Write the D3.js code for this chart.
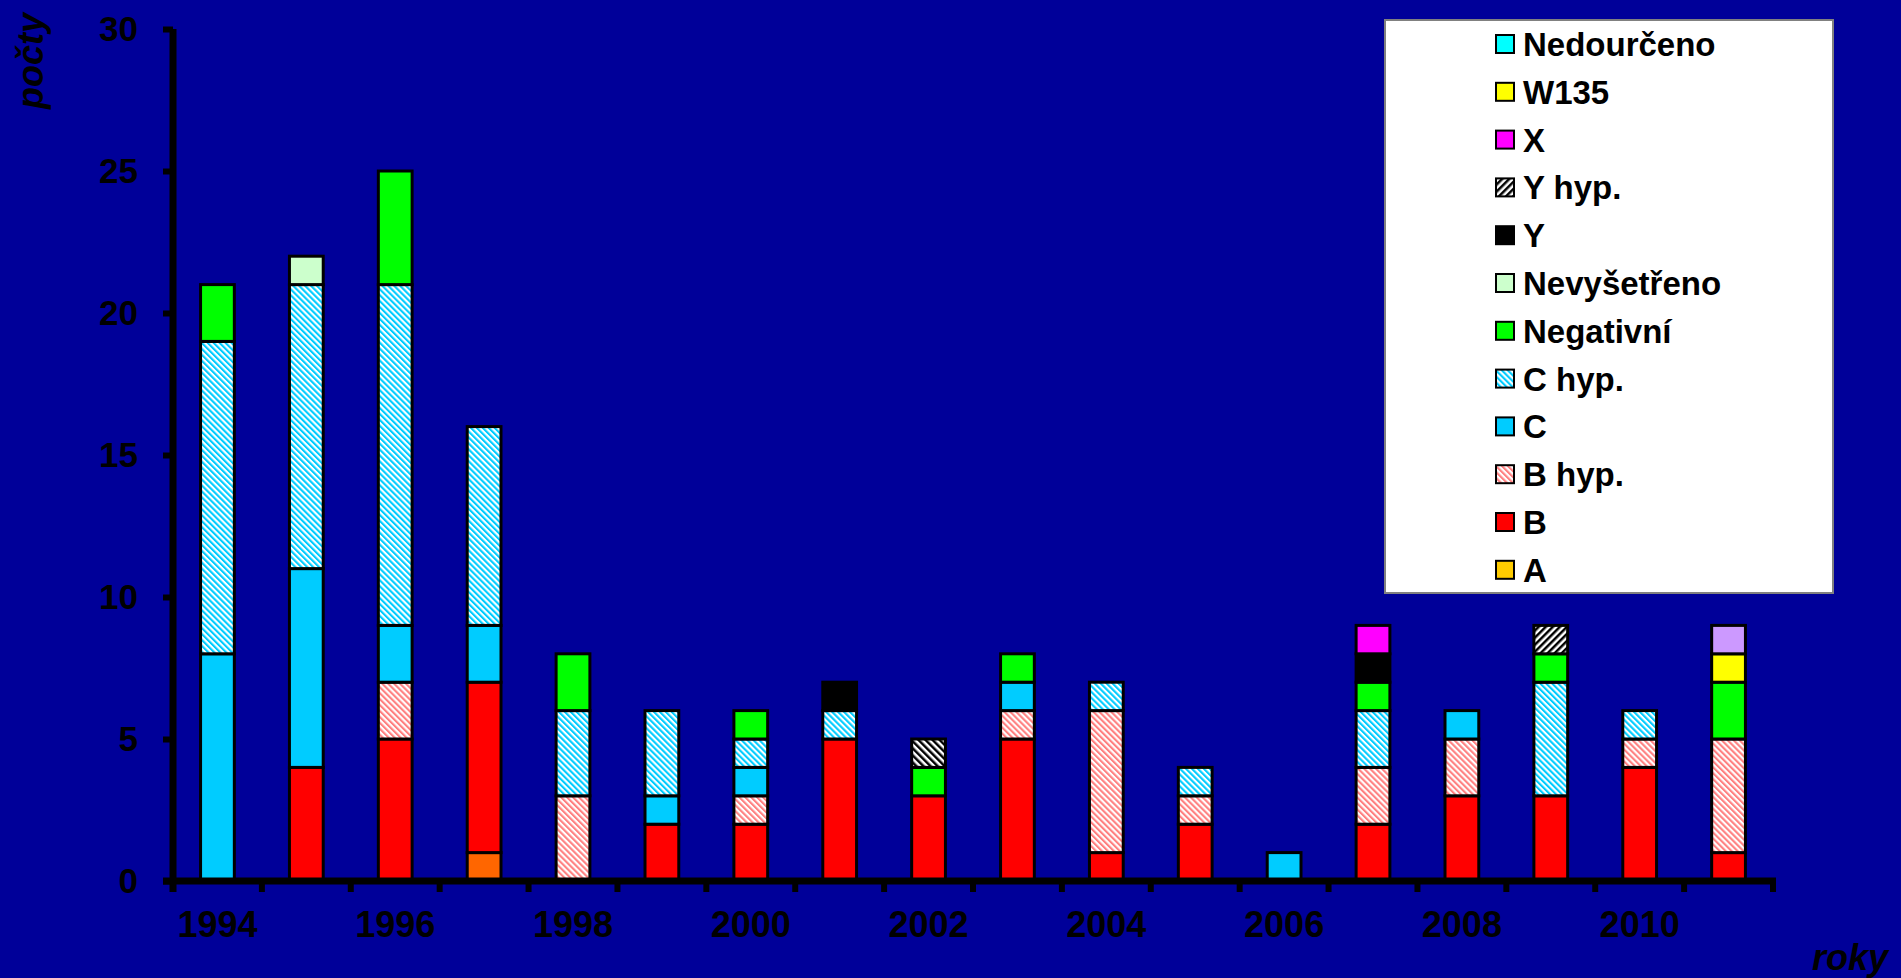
<!DOCTYPE html>
<html><head><meta charset="utf-8">
<script src="https://cdn.jsdelivr.net/npm/d3@7"></script>
<style>
html,body{margin:0;padding:0;background:#000099;overflow:hidden;}
text{font-family:"Liberation Sans",Arial,sans-serif;font-weight:bold;fill:#000;}
</style></head>
<body>
<svg id="chart" width="1901" height="978"></svg>
<script>
// ---- data ----
const years = [1994,1995,1996,1997,1998,1999,2000,2001,2002,2003,2004,2005,2006,2007,2008,2009,2010,2011];
const seriesNames = ["A","B","B hyp.","C","C hyp.","Negativní","Nevyšetřeno","Y","Y hyp.","X","W135","Nedourčeno"];
const valA          = [0,0,0,1,0,0,0,0,0,0,0,0,0,0,0,0,0,0];
const valB          = [0,4,5,6,0,2,2,5,3,5,1,2,0,2,3,3,4,1];
const valBhyp       = [0,0,2,0,3,0,1,0,0,1,5,1,0,2,2,0,1,4];
const valC          = [8,7,2,2,0,1,1,0,0,1,0,0,1,0,1,0,0,0];
const valChyp       = [11,10,12,7,3,3,1,1,0,0,1,1,0,2,0,4,1,0];
const valNegativni  = [2,0,4,0,2,0,1,0,1,1,0,0,0,1,0,1,0,2];
const valNevysetreno= [0,1,0,0,0,0,0,0,0,0,0,0,0,0,0,0,0,0];
const valY          = [0,0,0,0,0,0,0,1,0,0,0,0,0,1,0,0,0,0];
const valYhyp       = [0,0,0,0,0,0,0,0,1,0,0,0,0,0,0,1,0,0];
const valX          = [0,0,0,0,0,0,0,0,0,0,0,0,0,1,0,0,0,0];
const valW135       = [0,0,0,0,0,0,0,0,0,0,0,0,0,0,0,0,0,1];
const valNedourceno = [0,0,0,0,0,0,0,0,0,0,0,0,0,0,0,0,0,1];
const yTicks = [0,5,10,15,20,25,30];
const xLabelYears = [1994,1996,1998,2000,2002,2004,2006,2008,2010];

const seriesValues = [valA,valB,valBhyp,valC,valChyp,valNegativni,valNevysetreno,valY,valYhyp,valX,valW135,valNedourceno];
const seriesFill = ["#FFCC00","#FF0000","url(#hatchB)","#00CCFF","url(#hatchC)","#00FF00","#CCFFCC","#000000","url(#hatchY)","#FF00FF","#FFFF00","#00FFFF"];
const pointFill = {"1997|A":"#FF6600","2011|Nedourčeno":"#CC99FF","2002|Y hyp.":"url(#hatchY2)"};

const table = years.map((yr,i)=>{const o={year:yr};seriesNames.forEach((s,j)=>o[s]=seriesValues[j][i]);return o;});

const svg = d3.select("#chart");
svg.append("rect").attr("width",1901).attr("height",978).attr("fill","#000099");

// patterns
const defs = svg.append("defs");
function hatch(id, color, angle, period){
  const p = defs.append("pattern").attr("id",id).attr("patternUnits","userSpaceOnUse")
    .attr("width",period).attr("height",period).attr("patternTransform",`rotate(${angle})`);
  p.append("rect").attr("width",period).attr("height",period).attr("fill","#fff");
  p.append("rect").attr("width",period/2).attr("height",period).attr("fill",color);
}
hatch("hatchC","#00CCFF",-45,4.2);
hatch("hatchB","#FF8080",-45,4.2);
hatch("hatchY","#000000",45,5);
hatch("hatchY2","#000000",-45,5);

const x = d3.scaleBand().domain(years).range([173,1773]).paddingInner(0.62).paddingOuter(0.31);
const y = d3.scaleLinear().domain([0,30]).range([881,29]);

const stack = d3.stack().keys(seriesNames)(table);

// bars
const g = svg.append("g");
stack.forEach((layer,j)=>{
  g.selectAll(null).data(layer.filter(d=>d[1]-d[0]>0)).enter().append("rect")
    .attr("x",d=>x(d.data.year))
    .attr("width",x.bandwidth())
    .attr("y",d=>y(d[1]))
    .attr("height",d=>y(d[0])-y(d[1]))
    .attr("fill",d=>pointFill[d.data.year+"|"+layer.key]||seriesFill[j])
    .attr("stroke","#000").attr("stroke-width",3);
});

// y axis
const yAxis = svg.append("g").attr("transform","translate(173,0)")
  .call(d3.axisLeft(y).tickValues(yTicks).tickSize(10).tickSizeOuter(0).tickPadding(25));
yAxis.select(".domain").attr("stroke","#000").attr("stroke-width",7).attr("d",`M0,${y(30)}V${y(0)+11}`);
yAxis.selectAll(".tick line").attr("stroke","#000").attr("stroke-width",6);
yAxis.selectAll(".tick text").style("font-size","35px").style("font-family","'Liberation Sans',Arial,sans-serif").style("font-weight","bold").attr("fill","#000");

// x axis: baseline, boundary ticks, labels
const step = x.step();
const bounds = d3.range(years.length+1).map(i=>x.range()[0]+i*step);
svg.append("line").attr("x1",163).attr("x2",bounds[bounds.length-1]+3).attr("y1",y(0)).attr("y2",y(0))
  .attr("stroke","#000").attr("stroke-width",7);
svg.selectAll(null).data(bounds.slice(1)).enter().append("line")
  .attr("x1",d=>d).attr("x2",d=>d).attr("y1",y(0)).attr("y2",y(0)+11)
  .attr("stroke","#000").attr("stroke-width",6);
svg.selectAll(null).data(xLabelYears).enter().append("text")
  .attr("x",d=>x(d)+x.bandwidth()/2).attr("y",937).attr("text-anchor","middle")
  .style("font-size","36px").text(d=>d);

// axis titles
svg.append("text").attr("transform","translate(43,61) rotate(-90)").attr("text-anchor","middle")
  .style("font-size","36px").style("font-style","italic").text("počty");
svg.append("text").attr("x",1888).attr("y",970).attr("text-anchor","end")
  .style("font-size","36px").style("font-style","italic").text("roky");

// legend
const lg = svg.append("g");
lg.append("rect").attr("x",1385).attr("y",20).attr("width",448).attr("height",573)
  .attr("fill","#fff").attr("stroke","#808080").attr("stroke-width",2);
const legendItems = seriesNames.map((s,j)=>({name:s,fill:seriesFill[j]})).reverse();
const li = lg.selectAll(null).data(legendItems).enter().append("g")
  .attr("transform",(d,i)=>`translate(0,${44+i*47.8})`);
li.append("rect").attr("x",1496).attr("y",-9).attr("width",18).attr("height",18)
  .attr("fill",d=>d.fill).attr("stroke","#000").attr("stroke-width",2);
li.append("text").attr("x",1523).attr("y",12).style("font-size","33px").text(d=>d.name);
</script>
</body></html>
